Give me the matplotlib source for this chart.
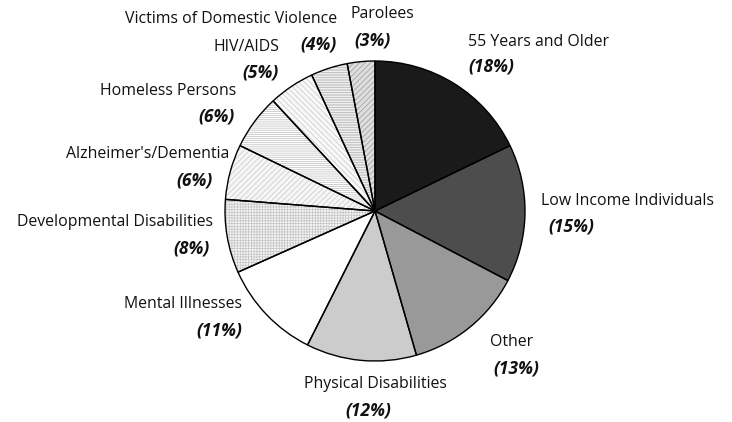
import matplotlib
matplotlib.use("Agg")
import matplotlib.pyplot as plt

categories = ["55 Years and Older", "Low Income Individuals", "Other", "Physical Disabilities",
              "Mental Illnesses", "Developmental Disabilities", "Alzheimer's/Dementia",
              "Homeless Persons", "HIV/AIDS", "Victims of Domestic Violence", "Parolees"]
values = [18, 15, 13, 12, 11, 8, 6, 6, 5, 4, 3]
pct_labels = ["(18%)", "(15%)", "(13%)", "(12%)", "(11%)", "(8%)", "(6%)", "(6%)", "(5%)", "(4%)", "(3%)"]

face = ["#1a1a1a", "#4d4d4d", "#999999", "#cccccc", "#ffffff", "#f4f4f4", "#f6f6f6",
        "#ffffff", "#f8f8f8", "#ffffff", "#dedede"]
hatches = [None, None, None, None, None, "++++++", "//////", "--------", "\\\\\\\\\\\\", "----------", "//////"]
hatch_col = ["#000000"] * 5 + ["#c4c4c4", "#c8c8c8", "#bcbcbc", "#c8c8c8", "#a8a8a8", "#9a9a9a"]

# label positions in pixels (x, y, ha)
name_pos = [(468, 42, "left"), (541, 201, "left"), (490, 342, "left"), (375, 384, "center"),
            (242, 304, "right"), (213, 222, "right"), (229, 154, "right"), (236, 91, "right"),
            (279, 47, "right"), (337, 19, "right"), (351, 14, "left")]
pct_pos = [(468, 67, "left"), (548, 227, "left"), (493, 369, "left"), (368, 410, "center"),
           (242, 330, "right"), (210, 248, "right"), (213, 180, "right"), (235, 116, "right"),
           (279, 72, "right"), (337, 44, "right"), (354, 40, "left")]

plt.rcParams['font.family'] = ['Open Sans', 'DejaVu Sans']
plt.rcParams['hatch.linewidth'] = 0.5

W, H = 732, 422
fig = plt.figure(figsize=(W / 100, H / 100), dpi=100)
ax = fig.add_axes([0, 0, 1, 1])

cx, cy, r = 375, H - 211, 150
wedges, _ = ax.pie(values, startangle=90, counterclock=False, center=(cx, cy), radius=r,
                   colors=face, wedgeprops=dict(linewidth=0), frame=True)
for w, h, hc in zip(wedges, hatches, hatch_col):
    if h:
        w.set_edgecolor(hc)
        w.set_hatch(h)
ax.pie(values, startangle=90, counterclock=False, center=(cx, cy), radius=r,
       colors=["none"] * len(values), wedgeprops=dict(linewidth=1.0, edgecolor="black"), frame=True)
ax.set_xlim(0, W)
ax.set_ylim(0, H)
ax.set_aspect("equal")
ax.axis("off")

for name, (x, y, ha) in zip(categories, name_pos):
    ax.text(x, H - y, name, ha=ha, va="center", fontsize=11.4, color="#111111")
for p, (x, y, ha) in zip(pct_labels, pct_pos):
    ax.text(x, H - y, p, ha=ha, va="center", fontsize=12.5, fontweight="bold",
            fontstyle="italic", color="#111111")

fig.savefig("out.png", dpi=100)
